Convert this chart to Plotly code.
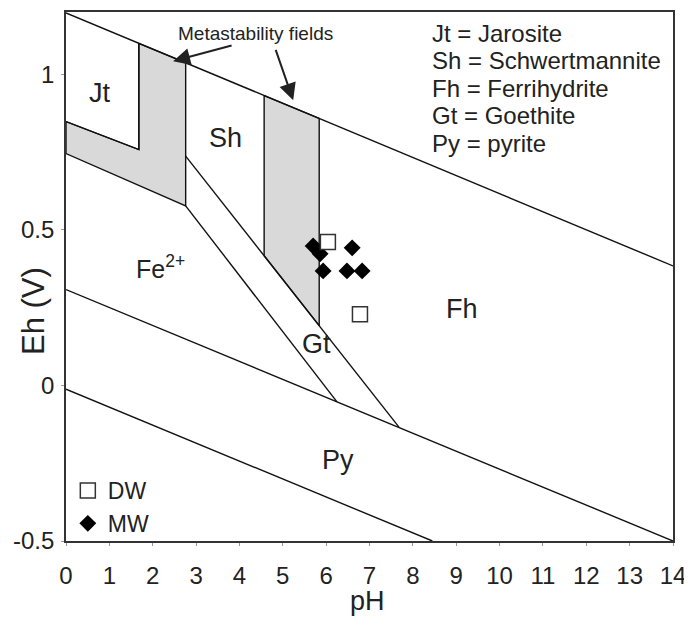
import plotly.graph_objects as go

# ---- data (pH, Eh in V) ----
ph_ticks = list(range(0, 15))
eh_ticks = [-0.5, 0, 0.5, 1]
eh_ticktext = ["-0.5", "0", "0.5", "1"]

upper_water_ph = [0, 14]
upper_water_eh = [1.197, 0.384]
lower_water_ph = [0, 8.45]
lower_water_eh = [-0.012, -0.5]
fe_py_ph = [0, 14]
fe_py_eh = [0.308, -0.5]
jt_ph = [0, 1.68, 1.68]
jt_eh = [0.848, 0.758, 1.099]
meta1_ph = [0, 1.68, 1.68, 2.76, 2.76, 0, 0]
meta1_eh = [0.848, 0.758, 1.099, 1.037, 0.577, 0.745, 0.848]
meta2_ph = [4.57, 5.84, 5.84, 4.57, 4.57]
meta2_eh = [0.931, 0.858, 0.192, 0.417, 0.931]
sh_gt_ph = [2.76, 7.68]
sh_gt_eh = [0.737, -0.134]
gt_fe_ph = [2.76, 6.25]
gt_fe_eh = [0.577, -0.053]

dw_ph = [6.04, 6.78]
dw_eh = [0.461, 0.229]
mw_ph = [5.70, 5.86, 6.60, 5.93, 6.48, 6.83]
mw_eh = [0.448, 0.423, 0.442, 0.368, 0.368, 0.368]

region_labels = ["Jt", "Sh", "Fe<sup>2+</sup>", "Gt", "Fh", "Py"]
region_ph = [0.78, 3.67, 2.17, 5.77, 9.13, 6.27]
region_eh = [0.939, 0.794, 0.381, 0.132, 0.245, -0.239]

key_lines = ["Jt = Jarosite", "Sh = Schwertmannite", "Fh = Ferrihydrite",
             "Gt = Goethite", "Py = pyrite"]

FONT = "Liberation Sans, Arial, sans-serif"
TXT = "#222222"
LINE = dict(color="#111111", width=1.4)

fig = go.Figure()

# shaded metastability fields
for px, py in [(meta1_ph, meta1_eh), (meta2_ph, meta2_eh)]:
    fig.add_trace(go.Scatter(x=px, y=py, mode="lines", fill="toself",
                             fillcolor="#d9d9d9", line=LINE,
                             showlegend=False, hoverinfo="skip"))

for px, py in [(upper_water_ph, upper_water_eh), (lower_water_ph, lower_water_eh),
               (fe_py_ph, fe_py_eh), (jt_ph, jt_eh),
               (sh_gt_ph, sh_gt_eh), (gt_fe_ph, gt_fe_eh)]:
    fig.add_trace(go.Scatter(x=px, y=py, mode="lines", line=LINE,
                             showlegend=False, hoverinfo="skip"))

fig.add_trace(go.Scatter(x=mw_ph, y=mw_eh, mode="markers", name="MW",
                         marker=dict(symbol="diamond", size=13, color="black",
                                     line=dict(width=0))))
fig.add_trace(go.Scatter(x=dw_ph, y=dw_eh, mode="markers", name="DW",
                         marker=dict(symbol="square", size=15, color="white",
                                     line=dict(width=1.5, color="#333333"))))

annotations = []
for lab, x, y in zip(region_labels, region_ph, region_eh):
    annotations.append(dict(x=x, y=y, text=lab, showarrow=False,
                            xanchor="center", yanchor="middle",
                            font=dict(size=27 if "Fe" not in lab else 25,
                                      family=FONT, color=TXT)))

for i, t in enumerate(key_lines):
    annotations.append(dict(xref="paper", yref="paper",
                            x=(430 - 66) / 607, y=(541 - 33 - 27.5 * i) / 529,
                            xanchor="left", yanchor="middle", text=t,
                            showarrow=False,
                            font=dict(size=24, family=FONT, color=TXT)))

annotations.append(dict(xref="paper", yref="paper", x=(255 - 66) / 607,
                        y=(541 - 33) / 529, text="Metastability fields",
                        xanchor="center", yanchor="middle",
                        showarrow=False, font=dict(size=19, family=FONT, color=TXT)))
annotations.append(dict(x=2.47, y=1.042, ax=60, ay=-16, text="", showarrow=True,
                        arrowhead=2, arrowsize=1.7, arrowwidth=2, arrowcolor="#222"))
annotations.append(dict(x=5.24, y=0.916, ax=-18, ay=-52, text="", showarrow=True,
                        arrowhead=2, arrowsize=1.7, arrowwidth=2, arrowcolor="#222"))

annotations.append(dict(xref="paper", yref="paper", x=-33 / 607, y=(541 - 311) / 529,
                        text="Eh (V)", textangle=-90, showarrow=False,
                        xanchor="center", yanchor="middle",
                        font=dict(size=31, family=FONT, color=TXT)))
annotations.append(dict(xref="paper", yref="paper", x=(367 - 66) / 607,
                        y=-(601 - 541) / 529, text="pH", showarrow=False,
                        xanchor="center", yanchor="middle",
                        font=dict(size=27, family=FONT, color=TXT)))

# page body has an 8px margin, so the figure is sized to fit the 692x618 window
fig.update_layout(
    width=684, height=610,
    margin=dict(l=58, r=19, t=4, b=77, autoexpand=False),
    paper_bgcolor="white", plot_bgcolor="white",
    showlegend=True,
    legend=dict(x=0.003, y=(541 - 469) / 529, xanchor="left", yanchor="top",
                traceorder="reversed", bgcolor="rgba(0,0,0,0)",
                font=dict(size=23, family=FONT, color=TXT)),
    annotations=annotations,
    font=dict(family=FONT, color=TXT),
)
fig.update_xaxes(range=[0, 14], tickvals=ph_ticks, showgrid=False, zeroline=False,
                 showline=True, mirror=True, linecolor="#333", linewidth=1.6,
                 ticks="outside", ticklen=3, tickcolor="#999", automargin=False,
                 ticklabelstandoff=9,
                 tickfont=dict(size=24, family=FONT, color=TXT))
fig.update_yaxes(range=[-0.5, 1.2], tickvals=eh_ticks, ticktext=eh_ticktext,
                 showgrid=False, zeroline=False, automargin=False,
                 showline=True, mirror=True, linecolor="#333", linewidth=1.6,
                 ticks="outside", ticklen=3, tickcolor="#999",
                 ticklabelstandoff=2,
                 tickfont=dict(size=24, family=FONT, color=TXT))

fig.write_html("out.html")
